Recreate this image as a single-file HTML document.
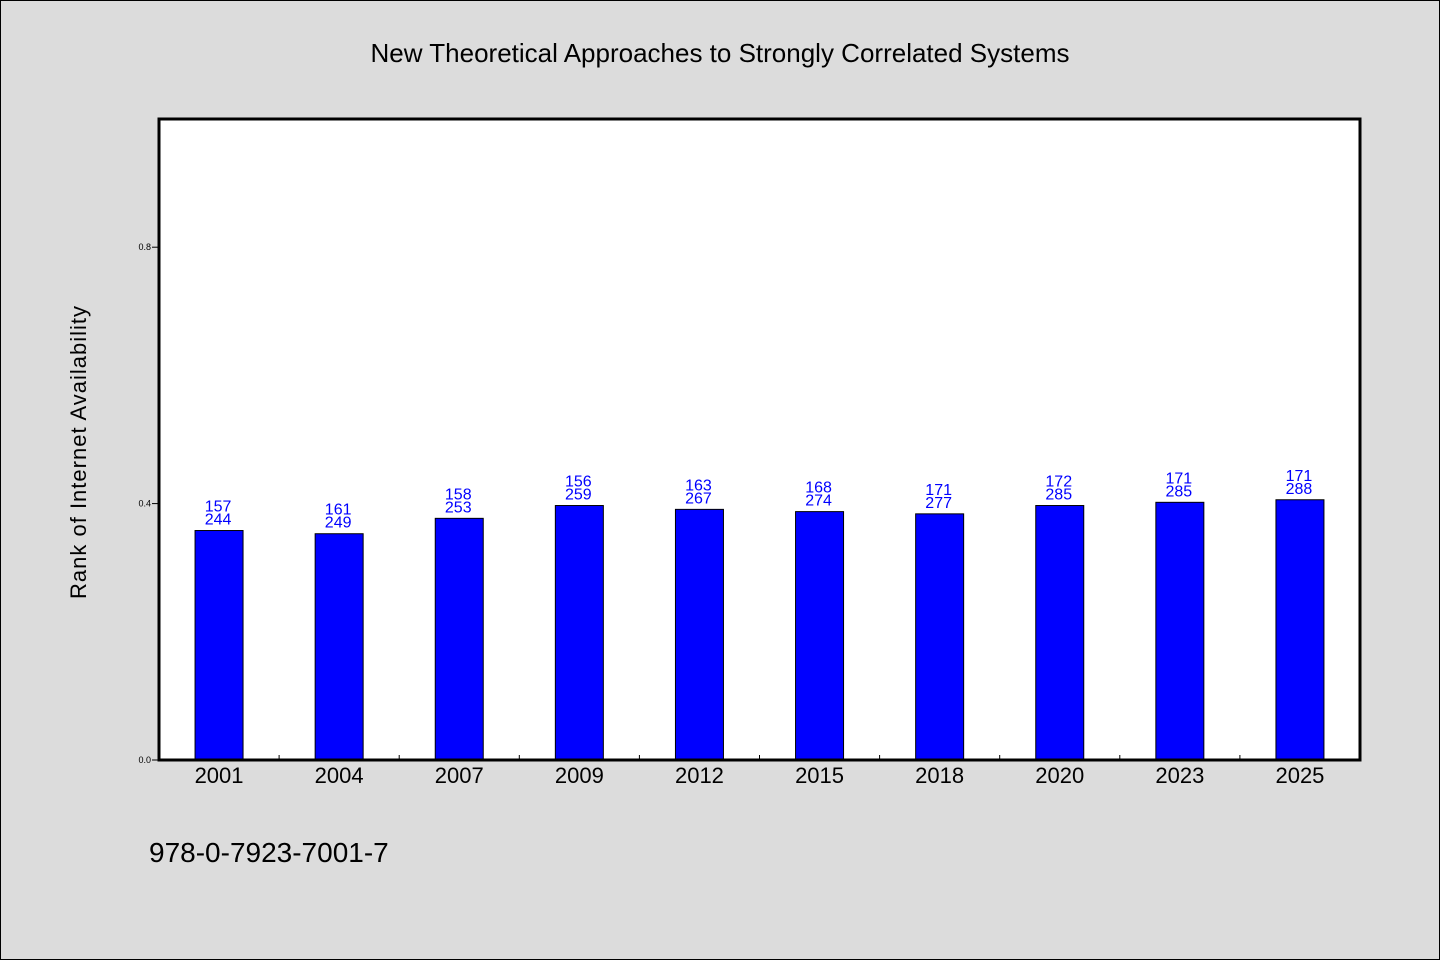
<!DOCTYPE html>
<html><head><meta charset="utf-8">
<style>
html,body{margin:0;padding:0;background:#dcdcdc;}
#wrap{position:relative;width:1438px;height:958px;border:1px solid #000;background:#dcdcdc;overflow:hidden;}
svg text{font-family:"WenQuanYi Zen Hei","Liberation Sans",sans-serif;}
</style></head>
<body>
<div id="wrap">
<svg id="chart" width="1438" height="958" xmlns="http://www.w3.org/2000/svg">
<text x="719" y="61" text-anchor="middle" font-size="26" fill="#000">New Theoretical Approaches to Strongly Correlated Systems</text>
<text transform="translate(85,451) rotate(-90)" text-anchor="middle" font-size="22" fill="#000" letter-spacing="1">Rank of Internet Availability</text>
<text x="148" y="861" font-size="28" fill="#000">978-0-7923-7001-7</text>
<rect x="158" y="118" width="1201" height="641" fill="#fff"/>
<g id="marks"></g>
<rect x="158" y="118" width="1201" height="641" fill="none" stroke="#000" stroke-width="3"/>
</svg>
</div>
<script>
const categories = ["2001","2004","2007","2009","2012","2015","2018","2020","2023","2025"];
const values = [0.358,0.353,0.377,0.397,0.391,0.3875,0.384,0.397,0.402,0.406];
const labelTop = ["157","161","158","156","163","168","171","172","171","171"];
const labelBottom = ["244","249","253","259","267","274","277","285","285","288"];
const yTicks = [0.0,0.4,0.8];
const yTickLabels = ["0.0","0.4","0.8"];

const NS="http://www.w3.org/2000/svg";
const X0=158, X1=1359, Y0=759, Y1=118;
const band=(X1-X0)/categories.length;
function xc(i){return X0+band*(i+0.5);}
function y(v){return Y0-(v-0)/(1-0)*(Y0-Y1);}
const g=document.getElementById('marks');
function mk(tag,attrs){const e=document.createElementNS(NS,tag);for(const k in attrs)e.setAttribute(k,attrs[k]);g.appendChild(e);return e;}

yTicks.forEach((t,i)=>{
  const l=mk('line',{x1:X0-7,x2:X0,y1:y(t),y2:y(t),stroke:'#000','stroke-width':1});
  
  
  const tx=mk('text',{x:X0-8,y:y(t)+3,'text-anchor':'end','font-size':9,fill:'#000'});
  tx.textContent=yTickLabels[i];
  
  
});
for(let i=1;i<categories.length;i++){
  const xx=X0+band*i;
  const l=mk('line',{x1:xx,x2:xx,y1:Y0,y2:Y0-5,stroke:'#000','stroke-width':1});
  
  
}
categories.forEach((c,i)=>{
  const bw=48;
  const r=mk('rect',{x:xc(i)-bw/2,y:y(values[i]),width:bw,height:Y0-y(values[i]),fill:'#0000ff',stroke:'#000','stroke-width':1});
  
  
  const t1=mk('text',{x:xc(i)-1,y:y(values[i])-19,'text-anchor':'middle','font-size':16,fill:'#0000ff'});
  t1.textContent=labelTop[i];
  
  
  const t2=mk('text',{x:xc(i)-1,y:y(values[i])-6,'text-anchor':'middle','font-size':16,fill:'#0000ff'});
  t2.textContent=labelBottom[i];
  
  
  const xl=mk('text',{x:xc(i),y:Y0+23,'text-anchor':'middle','font-size':22,fill:'#000'});
  xl.textContent=c;
  
  
});
</script>
</body></html>
